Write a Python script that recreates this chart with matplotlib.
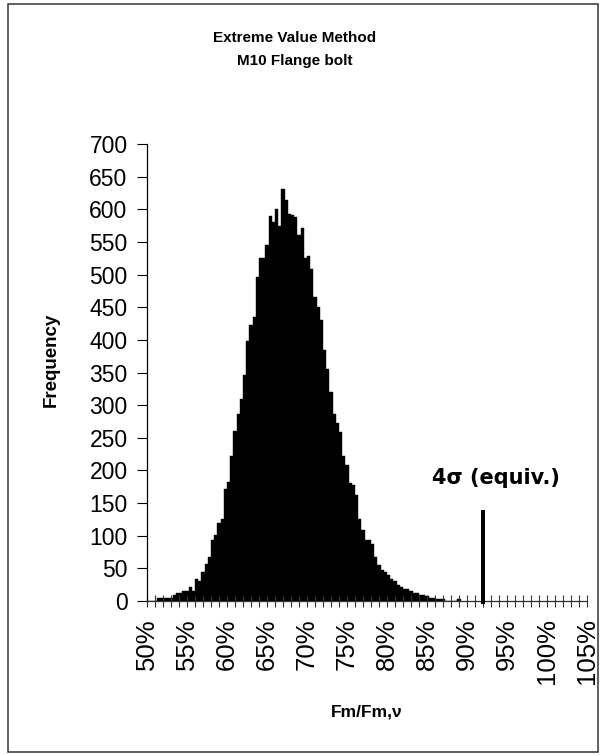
import matplotlib
matplotlib.use("Agg")
import matplotlib.pyplot as plt
from matplotlib.patches import Rectangle
from matplotlib.ticker import FixedLocator, FuncFormatter
import numpy as np

plt.rcParams["font.family"] = ["Liberation Sans", "DejaVu Sans"]

# histogram bins (Fm/Fm,nu in %), 0.4 % wide, starting at 50 %
BIN_START = 50.0
BIN_WIDTH = 0.4
freq = [
    0, 0, 0, 4, 4, 5, 5, 5, 9, 12,
    13, 16, 16, 22, 16, 33, 30, 45, 56, 68,
    93, 101, 119, 125, 172, 182, 222, 261, 287, 310,
    346, 399, 422, 435, 497, 526, 526, 546, 589, 580,
    600, 575, 631, 614, 593, 591, 588, 560, 571, 526,
    528, 509, 465, 450, 431, 384, 356, 320, 287, 273,
    259, 222, 209, 180, 177, 162, 126, 109, 93, 93,
    88, 68, 55, 47, 45, 40, 33, 30, 24, 22,
    19, 18, 16, 12, 12, 9, 9, 7, 5, 5,
    3, 3, 3, 0, 0, 0, 0, 3,
]

# the 4 sigma (equivalent) marker
sigma4_x = 92.0
sigma4_height = 140
sigma4_label = "4σ (equiv.)"

x_ticks = list(range(50, 106))
x_labels = list(range(50, 106, 5))
y_ticks = list(range(0, 701, 50))

fig = plt.figure(figsize=(6.02, 7.55), dpi=100)
ax = fig.add_axes([147 / 602, 1 - 601 / 755, 440 / 602, 457 / 755])

left = BIN_START + BIN_WIDTH * np.arange(len(freq))
ax.bar(left, freq, width=BIN_WIDTH, align="edge", color="black",
       edgecolor="black", linewidth=0.3)
ax.bar([sigma4_x], [sigma4_height + 5], bottom=-5, width=0.6, color="black",
       clip_on=False, zorder=3)
ax.text(92.0 - 6.4, 188, sigma4_label, fontsize=15, fontweight="bold",
        family="DejaVu Sans", ha="left", va="center")

ax.set_xlim(50, 105)
ax.set_ylim(0, 700)
ax.xaxis.set_major_locator(FixedLocator(x_ticks))
ax.xaxis.set_major_formatter(
    FuncFormatter(lambda v, p: f"{int(round(v))}%" if int(round(v)) in x_labels else ""))
ax.set_yticks(y_ticks)

for s in ("top", "right"):
    ax.spines[s].set_visible(False)
ax.spines["left"].set_linewidth(0.9)
ax.spines["bottom"].set_linewidth(0.9)
ax.spines["bottom"].set_color("#333333")

ax.tick_params(axis="x", direction="inout", length=9, width=0.8,
               color="#333333", labelsize=18.5, labelrotation=90, pad=8)
ax.tick_params(axis="y", direction="out", length=7, width=0.8,
               labelsize=16.5, pad=7)

fig.text(51 / 602, 1 - 360 / 755, "Frequency", rotation=90, ha="center",
         va="center", fontsize=13.5, fontweight="bold")
fig.text(367 / 602, 1 - 712 / 755, "Fm/Fm,ν", ha="center", va="center",
         fontsize=12.5, fontweight="bold")

fig.text(0.49, 1 - 38 / 755, "Extreme Value Method", ha="center",
         va="center", fontsize=11, fontweight="bold")
fig.text(0.49, 1 - 61 / 755, "M10 Flange bolt", ha="center",
         va="center", fontsize=11, fontweight="bold")

fig.patches.append(Rectangle((8 / 602, 3 / 755), 590 / 602, 748 / 755,
                             transform=fig.transFigure, fill=False,
                             edgecolor="#444444", linewidth=1.2))

fig.savefig("out.png", dpi=100)
